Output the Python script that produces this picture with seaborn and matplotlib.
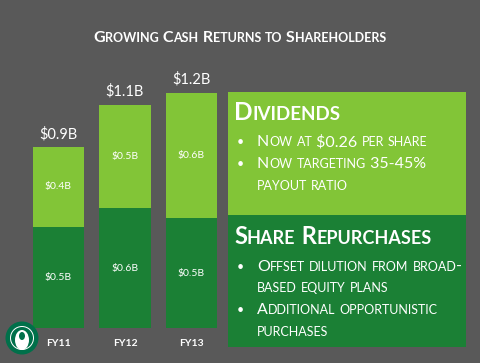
import matplotlib
matplotlib.use("Agg")
import matplotlib.pyplot as plt
from matplotlib.patches import Rectangle, Circle, Ellipse
from matplotlib.offsetbox import TextArea, HPacker, AnnotationBbox
import seaborn as sns
import pandas as pd

# data
years = ["FY11", "FY12", "FY13"]
repurchases = [0.50, 0.59, 0.54]
dividends = [0.39, 0.51, 0.62]
total_labels = ["$0.9B", "$1.1B", "$1.2B"]
dividend_labels = ["$0.4B", "$0.5B", "$0.6B"]
repurchase_labels = ["$0.5B", "$0.6B", "$0.5B"]

BG = "#595959"
LIGHT = "#82C537"
DARK = "#1B8035"
FONT = "Lato"

sns.set_theme(style="white")
plt.rcParams["font.family"] = [FONT, "DejaVu Sans"]

df = pd.DataFrame({"year": years, "rep": repurchases, "div": dividends})
df["total"] = df["rep"] + df["div"]

fig = plt.figure(figsize=(4.8, 3.63), dpi=100)
fig.patch.set_facecolor(BG)

H = 363.0
# bar axes placed in pixel terms
ax = fig.add_axes([18.6 / 480, 35 / H, 212.8 / 480, 263.9 / H])
ax.set_facecolor(BG)
sns.barplot(data=df, x="year", y="total", color=LIGHT, width=0.77,
            saturation=1, ax=ax, edgecolor="none")
sns.barplot(data=df, x="year", y="rep", color=DARK, width=0.77,
            saturation=1, ax=ax, edgecolor="none")
ax.set_xlim(-0.6, 2.6)
ax.set_ylim(0, 1.3)
ax.axis("off")

for i, row in df.iterrows():
    ax.text(i, row["total"] + 0.065, total_labels[i], ha="center", va="center",
            color="white", fontsize=10.5)
    ax.text(i, row["rep"] + row["div"] / 2, dividend_labels[i], ha="center",
            va="center", color="white", fontsize=7.5)
    ax.text(i, row["rep"] / 2, repurchase_labels[i], ha="center",
            va="center", color="white", fontsize=7.5)
    ax.text(i, -0.075, years[i], ha="center", va="center", color="white",
            fontsize=7.5, fontweight="bold")


def small_caps(s, x, y, big, small, weight="normal", align=0):
    # fake small caps: lowercase letters drawn as smaller capitals
    runs = []
    for ch in s:
        low = ch.islower()
        if runs and runs[-1][1] == low:
            runs[-1][0] += ch
        else:
            runs.append([ch, low])
    parts = []
    for txt, low in runs:
        parts.append(TextArea(txt.upper(), textprops=dict(
            color="white", fontsize=small if low else big,
            fontweight=weight, family=[FONT, "DejaVu Sans"])))
    box = HPacker(children=parts, align="baseline", pad=0, sep=0)
    ab = AnnotationBbox(box, (x, H - y), xycoords="figure pixels",
                        box_alignment=(align, 0.5), frameon=False, pad=0)
    fig.add_artist(ab)
    return ab


small_caps("Growing Cash Returns to Shareholders", 240, 38, 11.5, 9,
           "bold", align=0.5)

# right side boxes
fig.patches.append(Rectangle((228, H - 215), 238, 123, transform=None,
                             facecolor=LIGHT, edgecolor="none"))
fig.patches.append(Rectangle((228, H - 347), 238, 132, transform=None,
                             facecolor=DARK, edgecolor="none"))

small_caps("Dividends", 234, 113, 17.5, 13.5, "bold")
small_caps("Share Repurchases", 234, 237, 17, 13, "bold")
bullets = [
    (142, "Now at $0.26 per share", True),
    (164, "Now targeting 35-45%", True),
    (186, "payout ratio", False),
    (267, "Offset dilution from broad-", True),
    (288, "based equity plans", False),
    (310, "Additional opportunistic", True),
    (332, "purchases", False),
]
for y, txt, dot in bullets:
    if dot:
        fig.text(237 / 480, 1 - y / H, "\u2022", color="white", fontsize=9,
                 ha="left", va="center")
    small_caps(txt, 257, y, 11.5, 9)

# simplified logo
fig.patches.append(Circle((22, H - 338), 16.5, transform=None,
                          facecolor="#00704A", edgecolor="none"))
fig.patches.append(Circle((22, H - 338), 12, transform=None,
                          facecolor="white", edgecolor="none"))
fig.patches.append(Circle((22, H - 338), 11, transform=None,
                          facecolor="#00704A", edgecolor="none"))
fig.patches.append(Ellipse((22, H - 340), 14, 20, transform=None,
                           facecolor="white", edgecolor="none"))
fig.patches.append(Ellipse((22, H - 336), 6, 8, transform=None,
                           facecolor="#00704A", edgecolor="none"))

fig.savefig("out.png", dpi=100, facecolor=BG)
